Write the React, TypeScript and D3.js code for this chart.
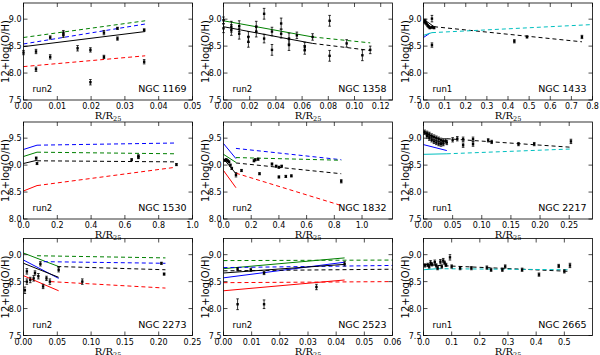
import React from 'react';
import * as d3 from 'd3';

// [x, y, err]
const n1169Pts = [[0, 8.38, 0.04], [0.0037, 8.40, 0.04], [0.0037, 8.07, 0.04], [0.0079, 8.30, 0.04], [0.0079, 8.66, 0.03], [0.0118, 8.75, 0.04], [0.0118, 8.70, 0.04], [0.016, 8.46, 0.05], [0.0198, 8.43, 0.04], [0.0198, 7.83, 0.05], [0.0238, 8.75, 0.04], [0.0238, 8.30, 0.03], [0.0278, 8.83, 0.02], [0.0278, 8.64, 0.03], [0.0357, 8.80, 0.02], [0.0357, 8.21, 0.04]];
const n1358Pts = [[0, 8.98, 0.06], [0, 8.83, 0.08], [0.006, 8.86, 0.1], [0.006, 8.80, 0.1], [0.012, 8.87, 0.1], [0.012, 8.73, 0.1], [0.019, 8.67, 0.1], [0.019, 8.58, 0.1], [0.025, 8.86, 0.1], [0.025, 8.77, 0.1], [0.031, 9.1, 0.1], [0.031, 8.64, 0.08], [0.037, 8.77, 0.08], [0.037, 8.43, 0.1], [0.044, 8.92, 0.1], [0.044, 8.73, 0.08], [0.05, 8.64, 0.1], [0.05, 8.52, 0.1], [0.056, 8.70, 0.06], [0.062, 8.49, 0.08], [0.062, 8.43, 0.08], [0.068, 8.67, 0.06], [0.081, 8.97, 0.1], [0.081, 8.32, 0.1], [0.094, 8.55, 0.07], [0.106, 8.33, 0.1], [0.112, 8.43, 0.07]];
const n1433Pts = [[0.005, 8.95, 0.02], [0.01, 8.93, 0.02], [0.015, 8.91, 0.02], [0.02, 8.88, 0.02], [0.025, 8.86, 0.02], [0.03, 8.84, 0.02], [0.008, 8.97, 0.03], [0.04, 8.85, 0.02], [0.05, 8.84, 0.02], [0.04, 9.01, 0.06], [0.04, 8.52, 0.04], [0.43, 8.59, 0.03], [0.49, 8.67, 0.02], [0.75, 8.67, 0.03]];
const n1530Pts = [[0.075, 9.13, 0.02], [0.08, 9.03, 0.02], [0.64, 9.10, 0.02], [0.68, 9.17, 0.02], [0.68, 9.14, 0.02], [0.905, 9.01, 0.02]];
const n1832Pts = [[0.01, 9.09, 0.02], [0.02, 9.1, 0.02], [0.03, 9.08, 0.02], [0.04, 9.06, 0.02], [0.05, 9.0, 0.02], [0.06, 8.94, 0.02], [0.09, 8.82, 0.04], [0.13, 8.9, 0.02], [0.22, 9.08, 0.02], [0.23, 9.1, 0.02], [0.25, 9.11, 0.02], [0.26, 8.84, 0.02], [0.35, 9.02, 0.02], [0.38, 8.98, 0.02], [0.40, 8.96, 0.02], [0.40, 8.78, 0.02], [0.42, 8.98, 0.02], [0.45, 8.79, 0.02], [0.49, 8.8, 0.02], [0.85, 8.7, 0.03]];
const n2217Pts = [[0.002, 9.11, 0.04], [0.006, 9.09, 0.04], [0.01, 9.07, 0.04], [0.014, 9.04, 0.04], [0.018, 9.02, 0.04], [0.022, 9.0, 0.04], [0.026, 8.98, 0.04], [0.03, 8.96, 0.04], [0.034, 8.95, 0.04], [0.038, 8.95, 0.04], [0.006, 9.04, 0.04], [0.01, 9.0, 0.04], [0.014, 8.97, 0.04], [0.018, 8.94, 0.04], [0.022, 8.92, 0.04], [0.026, 8.9, 0.04], [0.03, 8.89, 0.04], [0.034, 8.9, 0.04], [0.04, 8.92, 0.04], [0.05, 8.97, 0.04], [0.058, 8.99, 0.04], [0.068, 8.98, 0.04], [0.068, 8.87, 0.04], [0.085, 8.98, 0.04], [0.085, 8.89, 0.04], [0.111, 8.96, 0.03], [0.117, 8.93, 0.03], [0.163, 8.89, 0.03], [0.19, 8.89, 0.03], [0.253, 8.94, 0.04]];
const n2273Pts = [[0.002, 8.34, 0.06], [0.005, 8.5, 0.05], [0.005, 8.69, 0.05], [0.01, 8.53, 0.05], [0.015, 8.56, 0.05], [0.017, 8.66, 0.04], [0.022, 8.6, 0.05], [0.025, 8.83, 0.04], [0.029, 8.41, 0.04], [0.034, 8.56, 0.04], [0.039, 8.5, 0.05], [0.052, 8.72, 0.04], [0.087, 8.5, 0.05], [0.204, 8.84, 0.02], [0.208, 8.64, 0.02]];
const n2523Pts = [[0.005, 8.73, 0.03], [0.005, 8.08, 0.1], [0.0097, 8.72, 0.03], [0.0144, 8.66, 0.03], [0.0144, 8.08, 0.08], [0.033, 8.40, 0.05], [0.043, 8.83, 0.04]];
const n2665Pts = [[0.005, 8.8, 0.03], [0.015, 8.81, 0.03], [0.02, 8.78, 0.03], [0.025, 8.85, 0.04], [0.03, 8.82, 0.03], [0.04, 8.86, 0.04], [0.045, 8.8, 0.03], [0.05, 8.75, 0.03], [0.06, 8.87, 0.04], [0.065, 8.78, 0.03], [0.07, 8.89, 0.04], [0.075, 8.85, 0.03], [0.08, 8.81, 0.03], [0.094, 8.95, 0.05], [0.1, 8.78, 0.03], [0.13, 8.75, 0.03], [0.17, 8.75, 0.03], [0.225, 8.76, 0.03], [0.24, 8.72, 0.03], [0.28, 8.72, 0.03], [0.29, 8.78, 0.03], [0.35, 8.72, 0.03], [0.41, 8.63, 0.03], [0.48, 8.79, 0.03], [0.5, 8.69, 0.03], [0.52, 8.8, 0.04]];

// model gradients: series code, solid part (inner), dashed part
type Seg = [[number, number], [number, number]];
type Fit = { s: string; solid?: Seg; dashed?: Seg };
const n1169Fits: Fit[] = [
  { s: 'g', dashed: [[0, 8.66], [0.036, 8.97]] },
  { s: 'b', dashed: [[0, 8.54], [0.036, 8.91]] },
  { s: 'k', solid: [[0, 8.49], [0.036, 8.77]] },
  { s: 'r', dashed: [[0, 8.12], [0.036, 8.32]] },
];
const n1358Fits: Fit[] = [
  { s: 'k', solid: [[0, 8.86], [0.068, 8.55]], dashed: [[0.068, 8.55], [0.112, 8.42]] },
  { s: 'g', solid: [[0, 8.97], [0.068, 8.67]], dashed: [[0.068, 8.67], [0.112, 8.56]] },
];
const n1433Fits: Fit[] = [
  { s: 'k', solid: [[0, 9.0], [0.05, 8.86]], dashed: [[0.05, 8.86], [0.75, 8.58]] },
  { s: 'b', solid: [[0, 8.66], [0.03, 8.74]] },
  { s: 'c', solid: [[0, 8.7], [0.04, 8.75]], dashed: [[0.04, 8.75], [0.8, 8.9]] },
];
const n1530Fits: Fit[] = [
  { s: 'b', solid: [[0, 9.29], [0.08, 9.37]], dashed: [[0.08, 9.37], [0.9, 9.41]] },
  { s: 'g', solid: [[0, 9.16], [0.08, 9.24]], dashed: [[0.08, 9.24], [0.9, 9.21]] },
  { s: 'k', solid: [[0, 9.03], [0.08, 9.09]], dashed: [[0.08, 9.08], [0.9, 9.06]] },
  { s: 'r', solid: [[0, 8.52], [0.08, 8.62]], dashed: [[0.08, 8.62], [0.9, 8.96]] },
];
const n1832Fits: Fit[] = [
  { s: 'b', solid: [[0, 9.4], [0.09, 9.12]], dashed: [[0.09, 9.31], [0.85, 9.1]] },
  { s: 'g', solid: [[0, 9.2], [0.09, 9.05]], dashed: [[0.09, 9.14], [0.85, 9.09]] },
  { s: 'k', solid: [[0, 9.12], [0.09, 8.84]], dashed: [[0.09, 9.04], [0.85, 8.84]] },
  { s: 'r', solid: [[0, 8.9], [0.09, 8.58]], dashed: [[0.09, 8.85], [0.85, 8.25]] },
];
const n2217Fits: Fit[] = [
  { s: 'k', solid: [[0, 9.1], [0.04, 8.93]], dashed: [[0.04, 8.99], [0.255, 8.83]] },
  { s: 'b', solid: [[0, 8.88], [0.04, 8.77]] },
  { s: 'c', solid: [[0, 8.7], [0.04, 8.71]], dashed: [[0.04, 8.71], [0.255, 8.8]] },
];
const n2273Fits: Fit[] = [
  { s: 'g', solid: [[0, 9.03], [0.052, 8.78]], dashed: [[0.02, 8.98], [0.21, 8.94]] },
  { s: 'b', solid: [[0, 8.9], [0.052, 8.56]], dashed: [[0.03, 8.87], [0.21, 8.84]] },
  { s: 'k', solid: [[0, 8.84], [0.052, 8.58]], dashed: [[0.05, 8.78], [0.21, 8.72]] },
  { s: 'r', solid: [[0, 8.61], [0.052, 8.33]], dashed: [[0.04, 8.5], [0.21, 8.38]] },
];
const n2523Fits: Fit[] = [
  { s: 'g', solid: [[0, 8.74], [0.043, 8.94]], dashed: [[0, 8.89], [0.06, 8.9]] },
  { s: 'b', solid: [[0, 8.57], [0.043, 8.86]], dashed: [[0, 8.76], [0.06, 8.8]] },
  { s: 'k', solid: [[0, 8.66], [0.043, 8.82]], dashed: [[0, 8.7], [0.06, 8.73]] },
  { s: 'r', solid: [[0, 8.33], [0.043, 8.53]], dashed: [[0, 8.48], [0.06, 8.5]] },
];
const n2665Fits: Fit[] = [
  { s: 'k', solid: [[0, 8.82], [0.05, 8.8]], dashed: [[0.05, 8.8], [0.52, 8.69]] },
  { s: 'c', solid: [[0, 8.72], [0.05, 8.74]], dashed: [[0.05, 8.74], [0.52, 8.72]] },
];

const galaxyNames = ['NGC 1169', 'NGC 1358', 'NGC 1433', 'NGC 1530', 'NGC 1832', 'NGC 2217', 'NGC 2273', 'NGC 2523', 'NGC 2665'];
const runLabels = ['run2', 'run2', 'run1', 'run2', 'run2', 'run1', 'run2', 'run2', 'run1'];
const xMaxes = [0.05, 0.129, 0.8, 1.0, 1.22, 0.29, 0.25, 0.06, 0.6];
const xTickSets = [
  [0, 0.01, 0.02, 0.03, 0.04, 0.05],
  [0, 0.02, 0.04, 0.06, 0.08, 0.1, 0.12],
  [0, 0.1, 0.2, 0.3, 0.4, 0.5, 0.6, 0.7, 0.8],
  [0, 0.2, 0.4, 0.6, 0.8, 1.0],
  [0, 0.2, 0.4, 0.6, 0.8, 1.0],
  [0, 0.05, 0.1, 0.15, 0.2, 0.25],
  [0, 0.05, 0.1, 0.15, 0.2, 0.25],
  [0, 0.01, 0.02, 0.03, 0.04, 0.05, 0.06],
  [0, 0.1, 0.2, 0.3, 0.4, 0.5],
];
const xDecimals = [2, 2, 1, 1, 1, 2, 2, 2, 1];
const yDomains = [[7.5, 9.3], [7.5, 9.3], [7.5, 9.3], [8.0, 9.8], [8.0, 9.8], [7.5, 9.3], [7.5, 9.3], [7.5, 9.3], [7.5, 9.3]];
const yTickSets = [[7.5, 8.0, 8.5, 9.0], [8.0, 8.5, 9.0, 9.5]];
const allPts = [n1169Pts, n1358Pts, n1433Pts, n1530Pts, n1832Pts, n2217Pts, n2273Pts, n2523Pts, n2665Pts];
const allFits = [n1169Fits, n1358Fits, n1433Fits, n1530Fits, n1832Fits, n2217Fits, n2273Fits, n2523Fits, n2665Fits];

const colors: Record<string, string> = { k: '#000000', b: '#0000ff', g: '#008000', r: '#ff0000', c: '#00bfbf' };

const colLeft = [23.5, 223.5, 423.5];
const rowTop = [3, 122, 238.5];
const W = 169, H = 97;
const sans = 'DejaVu Sans, sans-serif';

function Panel({ i }: { i: number }) {
  const left = colLeft[i % 3], top = rowTop[Math.floor(i / 3)];
  const x = d3.scaleLinear().domain([0, xMaxes[i]]).range([0, W]);
  const yd = yDomains[i];
  const y = d3.scaleLinear().domain(yd).range([H, 0]);
  const yTicks = yd[0] === 8 ? yTickSets[1] : yTickSets[0];
  const line = d3.line<[number, number]>().x(d => x(d[0])).y(d => y(d[1]));
  const tl = 4;
  return (
    <g transform={`translate(${left},${top})`}>
      {allFits[i].map((f, j) => (
        <g key={j} stroke={colors[f.s]} strokeWidth={1} fill="none">
          {f.solid && <path d={line(f.solid) || ''} />}
          {f.dashed && <path d={line(f.dashed) || ''} strokeDasharray="4,3" />}
        </g>
      ))}
      {allPts[i].map((p, j) => {
        const px = x(p[0]), py = y(p[1]), e1 = y(p[1] + p[2]), e2 = y(p[1] - p[2]);
        return (
          <g key={j} stroke="#000" strokeWidth={0.8}>
            <line x1={px} x2={px} y1={e1} y2={e2} />
            <line x1={px - 1.3} x2={px + 1.3} y1={e1} y2={e1} />
            <line x1={px - 1.3} x2={px + 1.3} y1={e2} y2={e2} />
            <rect x={px - 1.2} y={py - 1.2} width={2.4} height={2.4} fill="#000" stroke="none" />
          </g>
        );
      })}
      <rect x={0} y={0} width={W} height={H} fill="none" stroke="#000" strokeWidth={0.8} />
      {xTickSets[i].map(t => (
        <g key={'x' + t}>
          <line x1={x(t)} x2={x(t)} y1={H} y2={H - tl} stroke="#000" strokeWidth={0.7} />
          <line x1={x(t)} x2={x(t)} y1={0} y2={tl} stroke="#000" strokeWidth={0.7} />
          <text x={x(t)} y={H + 9} fontSize={8} fontFamily={sans} textAnchor="middle">{t.toFixed(xDecimals[i])}</text>
        </g>
      ))}
      {yTicks.map(t => (
        <g key={'y' + t}>
          <line x1={0} x2={tl} y1={y(t)} y2={y(t)} stroke="#000" strokeWidth={0.7} />
          <line x1={W} x2={W - tl} y1={y(t)} y2={y(t)} stroke="#000" strokeWidth={0.7} />
          <text x={-2} y={y(t) + 3} fontSize={8} fontFamily={sans} textAnchor="end">{t.toFixed(1)}</text>
        </g>
      ))}
      <text x={9} y={H - 8} fontSize={8.5} fontFamily={sans}>{runLabels[i]}</text>
      <text x={W - 6} y={H - 8} fontSize={9.5} fontFamily={sans} textAnchor="end">{galaxyNames[i]}</text>
      <text transform={`translate(${-14.5},${H / 2}) rotate(-90)`} fontSize={10} fontFamily={sans} textAnchor="middle">12+log(O/H)</text>
      <text x={W / 2} y={H + 19} fontSize={10} fontFamily="DejaVu Serif, serif" textAnchor="middle">
        R/R<tspan fontSize={6.5} dy={2}>25</tspan>
      </text>
    </g>
  );
}

export default function App() {
  return (
    <svg width={600} height={355} style={{ position: 'absolute', left: 0, top: 0, background: '#fff' }}>
      {galaxyNames.map((_, i) => <Panel key={i} i={i} />)}
    </svg>
  );
}
